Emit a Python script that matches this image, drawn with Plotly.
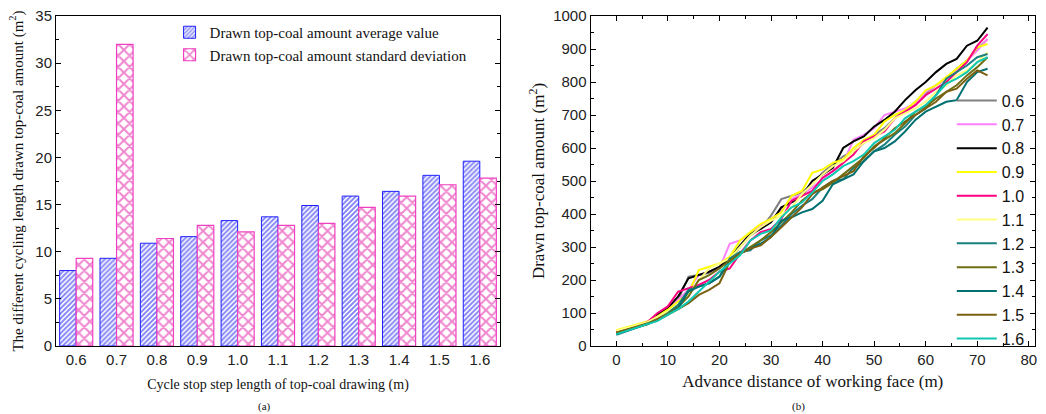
import plotly.graph_objects as go

# ---------- Panel (a) data ----------
step_lengths = ["0.6", "0.7", "0.8", "0.9", "1.0", "1.1", "1.2", "1.3", "1.4", "1.5", "1.6"]
avg_values = [8.0, 9.3, 10.9, 11.6, 13.3, 13.7, 14.9, 15.9, 16.4, 18.1, 19.6]
std_values = [9.3, 32.0, 11.4, 12.8, 12.1, 12.8, 13.0, 14.7, 15.9, 17.1, 17.8]

# ---------- Panel (b) data ----------
advance = list(range(0, 73, 2))
s06 = [45,55,62,72,92,112,140,210,215,222,240,262,300,335,355,395,445,455,465,490,525,550,575,590,615,640,660,690,715,740,765,790,810,840,865,900,930]
s07 = [44,54,62,72,90,110,140,170,215,225,235,310,320,340,365,385,410,445,460,480,505,530,555,625,640,660,700,710,720,735,770,790,810,835,865,895,930]
s08 = [40,50,60,72,95,115,150,205,215,225,240,265,305,340,355,375,420,435,455,500,520,540,600,620,635,665,685,710,745,775,800,830,855,870,910,925,965]
s09 = [48,56,64,74,90,110,135,160,230,240,250,270,320,345,370,385,405,455,470,525,535,555,565,600,625,640,680,700,715,740,775,790,815,840,865,905,915]
s10 = [42,52,60,72,100,120,165,175,185,200,225,235,280,320,345,355,385,440,455,470,510,530,555,580,620,635,650,690,710,730,760,780,800,830,860,910,945]
s11 = [46,54,62,72,88,105,125,155,200,235,250,265,300,335,360,380,395,420,460,490,520,545,560,590,615,630,655,690,705,720,740,770,790,820,835,860,890]
s12 = [38,48,56,66,80,100,125,170,180,190,210,265,285,290,320,335,365,400,425,445,480,500,505,540,560,590,610,640,665,700,720,760,810,830,850,875,885]
s13 = [40,50,58,68,82,98,118,150,200,215,235,260,280,300,320,345,375,405,440,465,475,495,520,545,570,605,625,645,675,710,725,750,770,790,820,845,875]
s14 = [34,45,55,65,78,95,115,165,180,190,210,255,280,295,310,330,380,390,405,415,440,490,505,520,560,590,600,620,650,685,710,725,740,745,800,830,840]
s15 = [40,50,58,66,80,95,112,130,155,170,190,255,280,295,305,330,360,390,420,460,480,500,515,530,575,600,630,660,680,700,720,740,770,780,810,835,820]
s16 = [36,46,55,64,76,95,112,135,165,195,225,250,275,320,340,350,390,420,435,465,500,520,545,560,580,615,635,655,690,710,730,760,795,810,830,860,875]

series_names = ["0.6", "0.7", "0.8", "0.9", "1.0", "1.1", "1.2", "1.3", "1.4", "1.5", "1.6"]
series_values = [s06, s07, s08, s09, s10, s11, s12, s13, s14, s15, s16]
series_colors = ["#808080", "#FF80FF", "#000000", "#FFFF00", "#FF0080", "#FFFF80",
                 "#1A8080", "#6E6E14", "#007070", "#7A6010", "#10C8B0"]

SERIF = "Times New Roman, Liberation Serif, serif"
SANS = "Arial, Liberation Sans, sans-serif"
TXT = "#111"

fig = go.Figure()

fig.add_trace(go.Bar(
    x=step_lengths, y=avg_values, name="Drawn top-coal amount average value",
    marker=dict(color="white", line=dict(color="#2020FF", width=1),
                pattern=dict(shape="/", fgcolor="#0A0AEE", bgcolor="white", size=3.5, solidity=0.55)),
    xaxis="x", yaxis="y", legend="legend"))
fig.add_trace(go.Bar(
    x=step_lengths, y=std_values, name="Drawn top-coal amount standard deviation",
    marker=dict(color="white", line=dict(color="#F040C0", width=1.2),
                pattern=dict(shape="x", fgcolor="#E010A0", bgcolor="white", size=8, solidity=0.45)),
    xaxis="x", yaxis="y", legend="legend"))

for name, vals, col in zip(series_names, series_values, series_colors):
    fig.add_trace(go.Scatter(
        x=advance, y=vals, name=name, mode="lines",
        line=dict(color=col, width=2),
        xaxis="x2", yaxis="y2", legend="legend2"))

axis_common = dict(showline=True, linecolor="black", linewidth=1, mirror="ticks",
                   ticks="inside", tickcolor="black", showgrid=False, zeroline=False,
                   automargin=False,
                   tickfont=dict(family=SANS, size=15, color="#222"))

fig.update_layout(
    width=1046, height=414,
    margin=dict(l=56, r=11, t=16, b=68, autoexpand=False),
    paper_bgcolor="white", plot_bgcolor="white",
    barmode="group", bargap=0.18, bargroupgap=0,
    xaxis=dict(domain=[0, 0.4535], range=[-0.5, 10.5], type="category",
               showline=True, linecolor="black", linewidth=1, mirror=True,
               ticks="", showgrid=False, zeroline=False, automargin=False,
               tickfont=dict(family=SANS, size=15, color="#222"),
               title=dict(text="Cycle stop step length of top-coal drawing (m)",
                          font=dict(family=SERIF, size=14, color=TXT), standoff=12)),
    yaxis=dict(domain=[0, 1], range=[0, 35], dtick=5, ticklen=5,
               minor=dict(dtick=2.5, ticklen=3, ticks="inside", tickcolor="black"),
               title=dict(text="The different cycling length drawn top-coal amount (m<sup>2</sup>)",
                          font=dict(family=SERIF, size=15, color=TXT), standoff=8),
               **axis_common),
    xaxis2=dict(domain=[0.546, 1], range=[-5, 81.2], dtick=10, ticklen=5,
                minor=dict(dtick=5, ticklen=3, ticks="inside", tickcolor="black"),
                anchor="y2",
                title=dict(text="Advance distance of working face (m)",
                           font=dict(family=SERIF, size=17, color=TXT), standoff=8),
                **axis_common),
    yaxis2=dict(domain=[0, 1], range=[0, 1000], dtick=100, ticklen=5, anchor="x2",
                minor=dict(dtick=50, ticklen=3, ticks="inside", tickcolor="black"),
                title=dict(text="Drawn top-coal amount (m<sup>2</sup>)",
                           font=dict(family=SERIF, size=17, color=TXT), standoff=4),
                **axis_common),
    legend=dict(x=0.116, y=1.0, xanchor="left", yanchor="top",
                bgcolor="rgba(0,0,0,0)", font=dict(family=SERIF, size=15, color=TXT),
                tracegroupgap=0, itemwidth=30),
    legend2=dict(x=0.915, y=0.795, xanchor="left", yanchor="top",
                 bgcolor="rgba(0,0,0,0)", font=dict(family=SANS, size=16, color=TXT),
                 tracegroupgap=0, itemwidth=40),
    showlegend=True,
)

plot_w = 1046 - 56 - 11
plot_h = 414 - 16 - 68
fig.add_annotation(text="(a)", x=(256 - 56) / plot_w, y=(346 - 406) / plot_h,
                   xref="paper", yref="paper", showarrow=False, yanchor="middle",
                   font=dict(family=SERIF, size=11, color=TXT))
fig.add_annotation(text="(b)", x=(807 - 56) / plot_w, y=(346 - 406) / plot_h,
                   xref="paper", yref="paper", showarrow=False, yanchor="middle",
                   font=dict(family=SERIF, size=11, color=TXT))

fig.write_html("out.html", config={"displayModeBar": False},
               post_script="document.body.style.margin='0';")
